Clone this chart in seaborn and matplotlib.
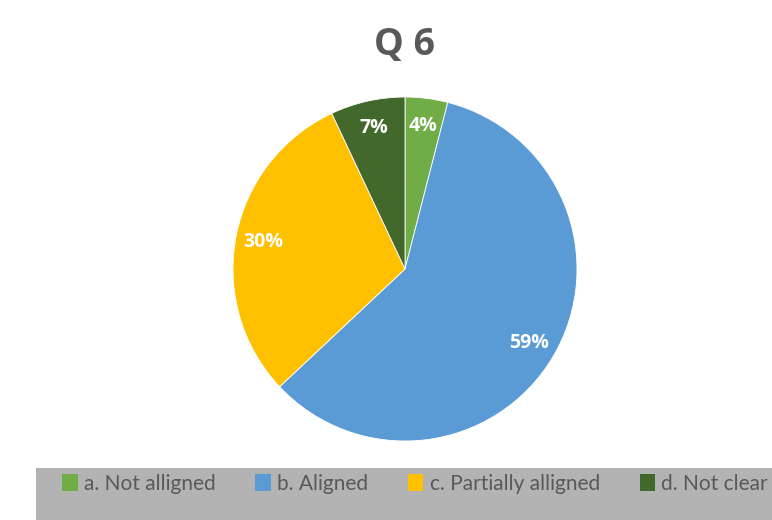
import matplotlib
matplotlib.use("Agg")
import matplotlib.pyplot as plt
import seaborn as sns
from matplotlib.patches import Rectangle, Patch

categories = ["a. Not alligned", "b. Aligned", "c. Partially alligned", "d. Not clear"]
shares = [4, 59, 30, 7]
colors = ["#70AD47", "#5B9BD5", "#FFC000", "#43682B"]
title = "Q 6"

sns.set_theme(style="white")
plt.rcParams['font.family'] = ['Open Sans', 'DejaVu Sans']

fig = plt.figure(figsize=(7.72, 5.2), dpi=100)

# gray band behind the legend
fig.patches.append(Rectangle((36 / 772, 0), 1, 52 / 520, transform=fig.transFigure,
                             facecolor="#B3B3B3", edgecolor="none", zorder=0))

# pie axes: centre (405, 269), radius 172 px
ax = fig.add_axes([(405 - 172) / 772, (251 - 172) / 520, 344 / 772, 344 / 520])
wedges, _, autotexts = ax.pie(shares, colors=colors, startangle=90, counterclock=False,
                              autopct="%1.0f%%", pctdistance=0.84,
                              wedgeprops=dict(edgecolor="white", linewidth=0.6))
for t in autotexts:
    t.set_color("white")
    t.set_fontweight("bold")
    t.set_fontsize(14)
ax.set_xlim(-1, 1)
ax.set_ylim(-1, 1)
ax.set_aspect("equal")
ax.axis("off")

fig.text(405 / 772, 1 - 45 / 520, title, ha="center", va="center",
         fontsize=27, fontweight="bold", color="#595959")

handles = [Patch(facecolor=c, edgecolor="none") for c in colors]
leg = fig.legend(handles, categories, loc="center left", bbox_to_anchor=(62 / 772, 36 / 520),
                 ncol=4, frameon=False, handlelength=0.75, handleheight=0.9,
                 handletextpad=0.3, columnspacing=1.9, borderpad=0, borderaxespad=0,
                 prop=dict(family=["Lato", "DejaVu Sans"], size=15))
for t in leg.get_texts():
    t.set_color("#595959")

fig.savefig("out.png", dpi=100)
